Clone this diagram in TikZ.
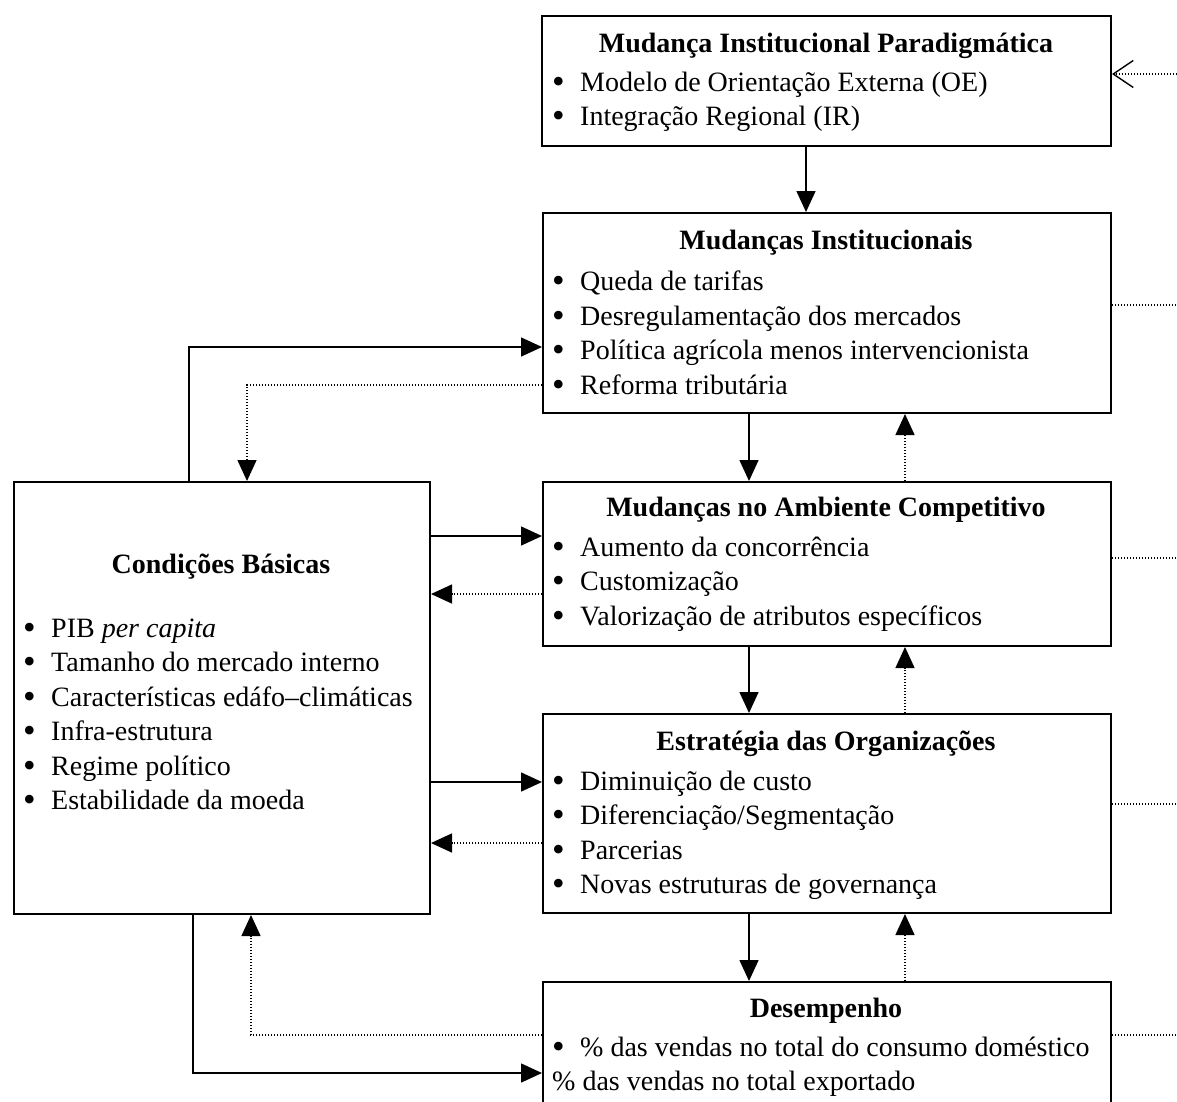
\documentclass[tikz,border=0pt]{standalone}
\usepackage{fontspec}
\setmainfont{Liberation Serif}
\usetikzlibrary{arrows.meta}
\newcommand\bu{\makebox[28pt][l]{\raisebox{-2.2pt}{\fontsize{36}{36}\selectfont\textbullet}}}
\begin{document}
\begin{tikzpicture}[x=1pt,y=-1pt,
  box/.style={draw, line width=2pt, inner sep=0pt, anchor=north west},
  ttl/.style={anchor=base, inner sep=0pt, font=\bfseries\fontsize{28}{34.5}\selectfont},
  itm/.style={anchor=base west, inner sep=0pt, font=\fontsize{28}{34.5}\selectfont},
  sol/.style={line width=1.5pt, -{Triangle[length=21pt,width=19pt]}},
  dot/.style={line width=1.4pt, dash pattern=on 1.4pt off 1.6pt, -{Triangle[length=21pt,width=19pt]}},
  dotl/.style={line width=1.4pt, dash pattern=on 1.4pt off 1.6pt}]
\useasboundingbox (0,0) rectangle (1177,1101);
% boxes
\node[box, minimum width=569pt, minimum height=130pt] (b1) at (541,15) {};
\node[box, minimum width=568pt, minimum height=200pt] (b2) at (542,212) {};
\node[box, minimum width=568pt, minimum height=164pt] (b3) at (542,481) {};
\node[box, minimum width=568pt, minimum height=199pt] (b4) at (542,713) {};
\node[box, minimum width=568pt, minimum height=140pt] (b5) at (542,981) {};
\node[box, minimum width=416pt, minimum height=432pt] (cb) at (13,481) {};
% box 1
\node[ttl] (t1) at (826,52) {Mudança Institucional Paradigmática};
\node[itm] (i11) at (552,91) {\bu Modelo de Orientação Externa (OE)};
\node[itm] (i12) at (552,125.5) {\bu Integração Regional (IR)};
% box 2
\node[ttl] (t2) at (826,249) {Mudanças Institucionais};
\node[itm] (i21) at (552,290.5) {\bu Queda de tarifas};
\node[itm] (i22) at (552,325) {\bu Desregulamentação dos mercados};
\node[itm] (i23) at (552,359.5) {\bu Política agrícola menos intervencionista};
\node[itm] (i24) at (552,394) {\bu Reforma tributária};
% box 3
\node[ttl] (t3) at (826,516) {Mudanças no Ambiente Competitivo};
\node[itm] (i31) at (552,556) {\bu Aumento da concorrência};
\node[itm] (i32) at (552,590.5) {\bu Customização};
\node[itm] (i33) at (552,625) {\bu Valorização de atributos específicos};
% box 4
\node[ttl] (t4) at (826,750) {Estratégia das Organizações};
\node[itm] (i41) at (552,790) {\bu Diminuição de custo};
\node[itm] (i42) at (552,824.5) {\bu Diferenciação/Segmentação};
\node[itm] (i43) at (552,859) {\bu Parcerias};
\node[itm] (i44) at (552,893.5) {\bu Novas estruturas de governança};
% box 5
\node[ttl] (t5) at (826,1017) {Desempenho};
\node[itm] (i51) at (552,1056) {\bu \% das vendas no total do consumo doméstico};
\node[itm] (i52) at (552,1090.5) {\% das vendas no total exportado};
% left box
\node[ttl] (tc) at (221,573) {Condições Básicas};
\node[itm] (c1) at (23,637) {\bu PIB \textit{per capita}};
\node[itm] (c2) at (23,671.5) {\bu Tamanho do mercado interno};
\node[itm] (c3) at (23,706) {\bu Características edáfo–climáticas};
\node[itm] (c4) at (23,740.5) {\bu Infra-estrutura};
\node[itm] (c5) at (23,775) {\bu Regime político};
\node[itm] (c6) at (23,809.5) {\bu Estabilidade da moeda};
% vertical connectors
\draw[sol] (806,0 |- b1.south) -- (806,0 |- b2.north);
\draw[sol] (749,0 |- b2.south) -- (749,0 |- b3.north);
\draw[dot] (905,0 |- b3.north) -- (905,0 |- b2.south);
\draw[sol] (749,0 |- b3.south) -- (749,0 |- b4.north);
\draw[dot] (905,0 |- b4.north) -- (905,0 |- b3.south);
\draw[sol] (749,0 |- b4.south) -- (749,0 |- b5.north);
\draw[dot] (905,0 |- b5.north) -- (905,0 |- b4.south);
% left connectors
\draw[sol] (189,0 |- cb.north) -- (189,347) -- (b2.west |- 0,347);
\draw[dot] (b2.west |- 0,385) -- (247,385) -- (247,0 |- cb.north);
\draw[sol] (cb.east |- 0,536) -- (b3.west |- 0,536);
\draw[dot] (b3.west |- 0,594) -- (cb.east |- 0,594);
\draw[sol] (cb.east |- 0,782) -- (b4.west |- 0,782);
\draw[dot] (b4.west |- 0,843) -- (cb.east |- 0,843);
\draw[sol] (193,0 |- cb.south) -- (193,1073) -- (b5.west |- 0,1073);
\draw[dot] (b5.west |- 0,1035) -- (251,1035) -- (251,0 |- cb.south);
% right connectors
\coordinate (r1) at (1177,74);
\coordinate (r2) at (1177,305);
\coordinate (r3) at (1177,558);
\coordinate (r4) at (1177,804);
\coordinate (r5) at (1177,1035);
\draw[dotl, -{Straight Barb[length=20pt,width=27pt,line width=1.4pt]}] (r1) -- (b1.east |- r1);
\draw[dotl] (b2.east |- r2) -- (r2);
\draw[dotl] (b3.east |- r3) -- (r3);
\draw[dotl] (b4.east |- r4) -- (r4);
\draw[dotl] (b5.east |- r5) -- (r5);
\end{tikzpicture}
\end{document}
